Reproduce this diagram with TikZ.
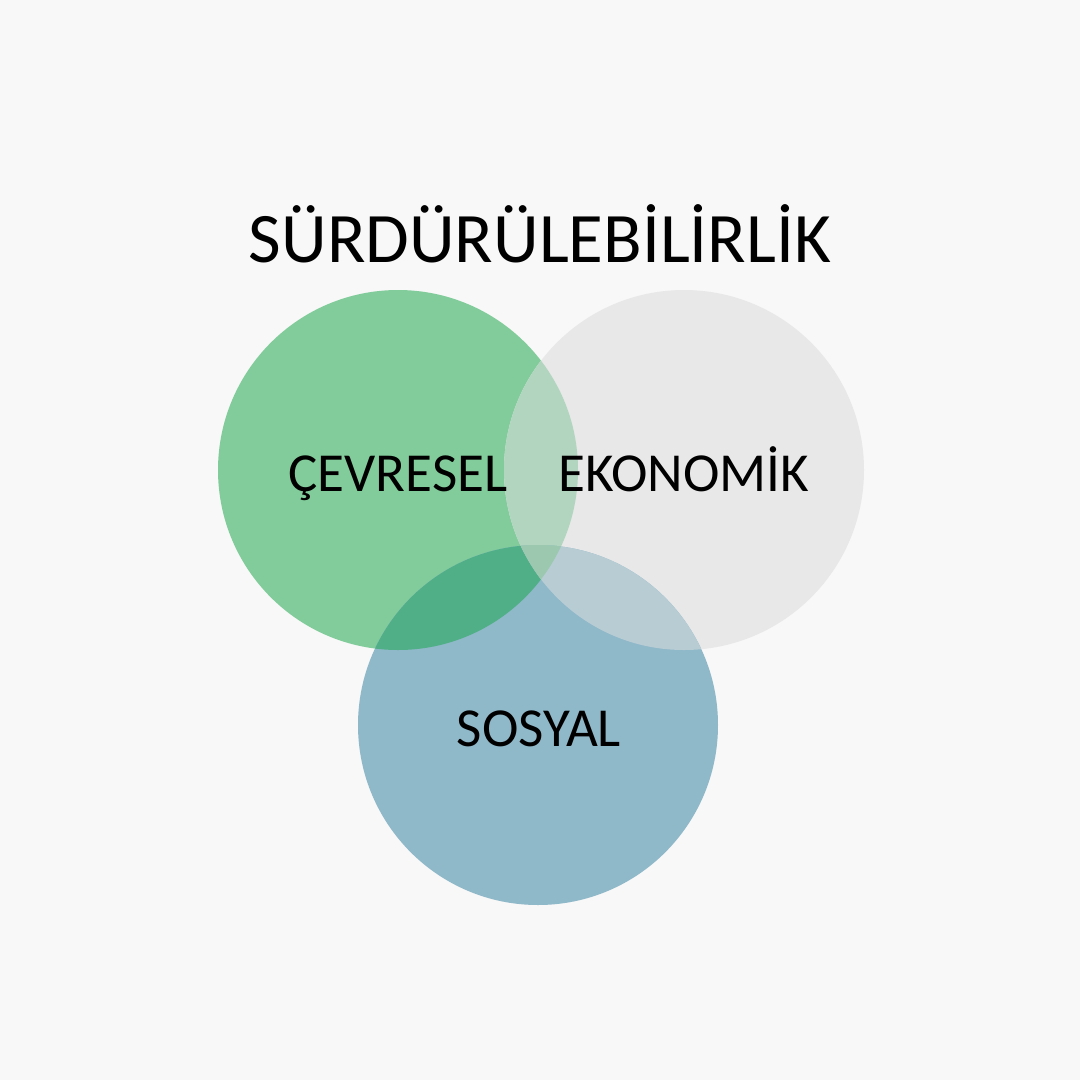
\documentclass[tikz,border=0pt]{standalone}
\usepackage{fontspec}
\setmainfont{Carlito}
\definecolor{bg}{HTML}{F8F8F8}
\definecolor{cgreen}{HTML}{82CC9B}
\definecolor{cgray}{HTML}{E8E8E8}
\definecolor{cblue}{HTML}{8FB8C9}
\definecolor{cgg}{HTML}{B2D5C0}
\definecolor{cgb}{HTML}{50AF87}
\definecolor{cyb}{HTML}{B8CCD4}
\definecolor{call}{HTML}{9CC8B0}
\tikzset{
  lbl/.style={text=black, inner sep=0pt, font=\fontsize{55}{66}\selectfont},
  ttl/.style={text=black, inner sep=0pt, font=\fontsize{71}{85}\selectfont}
}
\begin{document}
\begin{tikzpicture}[x=1pt,y=-1pt]
\fill[bg] (0,0) rectangle (1080,1080);
\useasboundingbox (0,0) rectangle (1080,1080);
\def\G{(398,470) circle[radius=180]}
\def\Y{(684,470) circle[radius=180]}
\def\B{(538,725) circle[radius=180]}
\fill[cgreen] \G;
\fill[cgray] \Y;
\fill[cblue] \B;
\begin{scope}\clip \G; \fill[cgg] \Y; \end{scope}
\begin{scope}\clip \G; \fill[cgb] \B; \end{scope}
\begin{scope}\clip \Y; \fill[cyb] \B; \end{scope}
\begin{scope}\clip \G; \clip \Y; \fill[call] \B; \end{scope}
\node[ttl, anchor=base] (title) at (540,262) {SÜRDÜRÜLEBİLİRLİK};
\node[lbl, anchor=base] (cev) at (398,491) {ÇEVRESEL};
\node[lbl, anchor=base] (eko) at (684,491) {EKONOMİK};
\node[lbl, anchor=base] (sos) at (539,746) {SOSYAL};
\end{tikzpicture}
\end{document}
